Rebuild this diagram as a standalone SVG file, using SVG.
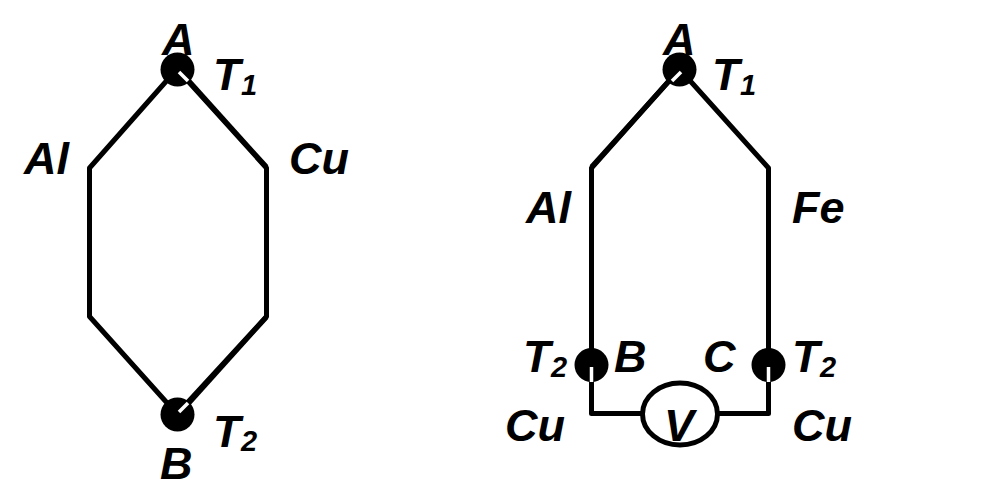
<svg xmlns="http://www.w3.org/2000/svg" width="1004" height="498" viewBox="0 0 1004 498">
<style>
.w{fill:none;stroke:#000;stroke-width:5;stroke-linejoin:round}
.h{fill:none;stroke:#fff;stroke-width:3.5}
.d{fill:#000}
text{font-family:"Liberation Sans",Arial,sans-serif;font-weight:bold;font-style:italic;fill:#000}
.l{font-size:45px}
.s{font-size:29px}
</style>
<rect width="1004" height="498" fill="#fff"/>
<g id="connectors">
<path class="w" d="M177 69L89.500 168V316.500L177 414"/>
<path class="w" d="M177 69L266.500 168V316.500L177 414"/>
<path class="w" d="M188 404L266.500 317"/>
<path class="w" d="M188 80L266.500 167"/>
<path class="w" d="M679.500 69L591.500 168V413.500H642"/>
<path class="w" d="M670 80L591.500 167"/>
<path class="w" d="M679.500 69L768.500 168V413.500H717"/>
</g>
<g id="node-left-A"><circle class="d" cx="177.500" cy="69.500" r="17"/><path class="h" d="M179 72L188 81"/><text class="l" x="162" y="55">A</text><text class="l" x="213" y="90">T</text><text class="s" x="241" y="95">1</text></g>
<g id="node-left-B"><circle class="d" cx="177.500" cy="414.500" r="17"/><path class="h" d="M179 412L188 403"/><text class="l" x="160" y="479">B</text><text class="l" x="213" y="447">T</text><text class="s" x="241" y="451">2</text></g>
<g id="label-Al-left"><text class="l" x="24" y="174">Al</text></g>
<g id="label-Cu-left"><text class="l" x="289" y="174">Cu</text></g>
<g id="node-right-A"><circle class="d" cx="679.500" cy="69.500" r="17"/><path class="h" d="M681 72L672 81"/><text class="l" x="663" y="55">A</text><text class="l" x="712" y="90">T</text><text class="s" x="740" y="95">1</text></g>
<g id="node-right-B"><circle class="d" cx="591.500" cy="365" r="17"/><path class="h" d="M591.500 367V382"/><text class="l" x="523" y="372">T</text><text class="s" x="551" y="377">2</text><text class="l" x="614" y="372">B</text></g>
<g id="node-right-C"><circle class="d" cx="768.500" cy="365" r="17"/><path class="h" d="M768.500 367V382"/><text class="l" x="703" y="372">C</text><text class="l" x="792" y="372">T</text><text class="s" x="820" y="377">2</text></g>
<g id="label-Al-right"><text class="l" x="526" y="223">Al</text></g>
<g id="label-Fe"><text class="l" x="792" y="223">Fe</text></g>
<g id="label-Cu-bl"><text class="l" x="505" y="441">Cu</text></g>
<g id="label-Cu-br"><text class="l" x="792" y="441">Cu</text></g>
<g id="voltmeter"><ellipse cx="680" cy="414" rx="37.500" ry="31" fill="#fff" stroke="#000" stroke-width="5"/><text class="l" x="664" y="441">V</text></g>
</svg>
